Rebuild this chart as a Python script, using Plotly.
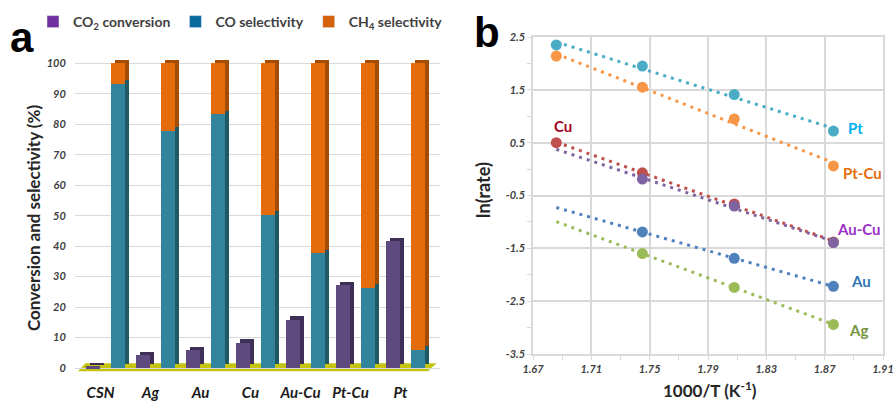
import numpy as np
import plotly.graph_objects as go

# ---------------- data: panel a ----------------
catalysts = ["CSN", "Ag", "Au", "Cu", "Au-Cu", "Pt-Cu", "Pt"]
co2_conversion = [0.6, 4.2, 5.8, 8.2, 15.8, 27.2, 41.6]
co_selectivity = [93.2, 77.8, 83.3, 50.2, 37.6, 26.4, 6.0]
ch4_selectivity = [6.8, 22.2, 16.7, 49.8, 62.4, 73.6, 94.0]
left_yticks = [0, 10, 20, 30, 40, 50, 60, 70, 80, 90, 100]

# ---------------- data: panel b ----------------
inv_T = [1.686, 1.745, 1.808, 1.876]
ln_pt = [2.35, 1.95, 1.41, 0.72]
ln_ptcu = [2.14, 1.55, 0.95, 0.06]
ln_cu = [0.50, -0.07, -0.66, -1.38]
ln_aucu = [None, -0.19, -0.70, -1.39]
ln_au = [None, -1.19, -1.69, -2.22]
ln_ag = [None, -1.60, -2.24, -2.94]
right_xticks = [1.67, 1.71, 1.75, 1.79, 1.83, 1.87, 1.91]
right_yticks = [-3.5, -2.5, -1.5, -0.5, 0.5, 1.5, 2.5]

W, H = 894, 401
def px(x):
    return x / W
def py(y):
    return 1 - y / H

fig = go.Figure()

# ---------- panel a: pseudo-3D bars ----------
n = len(catalysts)
idx = np.arange(n)
x_conv = idx - 0.25
x_sel = idx + 0.25
bw = 0.28
dx = 0.08   # depth offset (x units)
dy = 1.2    # depth offset (y units)

front = dict(conv="#5f4a7f", co="#31849b", ch4="#e46c0a")
side = dict(conv="#3d2f55", co="#205866", ch4="#a54c05")

def depth_bar(x, y, base, color):
    fig.add_trace(go.Bar(x=x, y=y, base=[b + dy for b in base], width=bw,
                         offset=-bw / 2 + dx, marker=dict(color=color, line=dict(width=0)),
                         showlegend=False, hoverinfo="skip", xaxis="x", yaxis="y"))

def front_bar(x, y, base, color, name):
    fig.add_trace(go.Bar(x=x, y=y, base=base, width=bw, offset=-bw / 2,
                         marker=dict(color=color, line=dict(width=0)),
                         name=name, showlegend=False, xaxis="x", yaxis="y"))

zeros = [0] * n
depth_bar(x_conv, co2_conversion, zeros, side["conv"])
depth_bar(x_sel, co_selectivity, zeros, side["co"])
depth_bar(x_sel, ch4_selectivity, co_selectivity, side["ch4"])
front_bar(x_conv, co2_conversion, zeros, front["conv"], "CO2 conversion")
front_bar(x_sel, co_selectivity, zeros, front["co"], "CO selectivity")
front_bar(x_sel, ch4_selectivity, co_selectivity, front["ch4"], "CH4 selectivity")

legend_items = [("CO<sub>2</sub> conversion", "#7030a0"),
                ("CO selectivity", "#0a6a9e"),
                ("CH<sub>4</sub> selectivity", "#d4600c")]
for name, col in legend_items:
    fig.add_trace(go.Bar(x=[None], y=[None], name=name, marker=dict(color=col),
                         showlegend=True, xaxis="x", yaxis="y"))

# ---------- panel b: Arrhenius plot ----------
series = [
    ("Pt", ln_pt, "#4bacc6"),
    ("Pt-Cu", ln_ptcu, "#f79646"),
    ("Cu", ln_cu, "#c0504d"),
    ("Au-Cu", ln_aucu, "#8064a2"),
    ("Au", ln_au, "#4f81bd"),
    ("Ag", ln_ag, "#9bbb59"),
]
x_line = np.array([min(inv_T), max(inv_T)])
for name, vals, col in series:
    xs = [x for x, v in zip(inv_T, vals) if v is not None]
    ys = [v for v in vals if v is not None]
    k, b = np.polyfit(xs, ys, 1)
    fig.add_trace(go.Scatter(x=x_line, y=k * x_line + b, mode="lines",
                             line=dict(color=col, width=3, dash="3px,5px"),
                             showlegend=False, hoverinfo="skip", xaxis="x2", yaxis="y2"))
for name, vals, col in series:
    fig.add_trace(go.Scatter(x=inv_T, y=vals, mode="markers", name=name,
                             marker=dict(color=col, size=11),
                             showlegend=False, xaxis="x2", yaxis="y2"))

FONT = "Lato, Open Sans, sans-serif"
tickfont = dict(family=FONT, size=11, color="#404040", weight="bold", style="italic")
grid = "#d9d9d9"

shapes = [dict(type="path", xref="x", yref="y",
               path="M -0.55,-1.1 L 6.45,-1.1 L 6.62,1.6 L -0.40,1.6 Z",
               fillcolor="#c3c310", line=dict(width=0), layer="below")]

def ann(text, x, y, size, color, angle=0, family=FONT):
    return dict(text=text, x=px(x), y=py(y), xref="paper", yref="paper", showarrow=False,
                xanchor="center", yanchor="middle", textangle=angle,
                font=dict(family=family, size=size, color=color))

annotations = [
    ann("<b>a</b>", 22, 37, 42, "black", family="Liberation Sans, Arial"),
    ann("<b>b</b>", 487, 33, 42, "black", family="Liberation Sans, Arial"),
    ann("<b>Conversion and selectivity (%)</b>", 33, 218, 17, "#262626", angle=-90),
    ann("<b>ln(rate)</b>", 483, 190, 18, "#262626", angle=-90),
    ann("<b>1000/T (K<sup>-1</sup>)</b>", 710, 389, 17, "#262626"),
]
series_labels = [("Pt", 855, 128, "#00b0f0"), ("Pt-Cu", 862, 173, "#e46c0a"),
                 ("Cu", 563, 126, "#a50021"), ("Au-Cu", 859, 229, "#9b30c8"),
                 ("Au", 861, 281, "#2e75b6"), ("Ag", 858, 330, "#77933c")]
for t, x, y, c in series_labels:
    annotations.append(ann("<b>" + t + "</b>", x, y, 15, c))

fig.update_layout(
    width=W, height=H,
    margin=dict(l=0, r=0, t=0, b=0, autoexpand=False),
    paper_bgcolor="white", plot_bgcolor="white",
    barmode="overlay", bargap=0,
    font=dict(family=FONT),
    showlegend=True,
    legend=dict(orientation="h", x=px(33), y=py(6), xanchor="left", yanchor="top",
                font=dict(size=14, color="#404040", family=FONT, weight="bold"),
                itemwidth=30, traceorder="normal",
                bgcolor="rgba(0,0,0,0)"),
    xaxis=dict(domain=[px(75), px(440)], range=[-0.61, 6.69], automargin=False,
               tickvals=list(idx - 0.1), ticktext=catalysts,
               tickfont=dict(family=FONT, size=15, color="#1a1a1a",
                             weight="bold", style="italic"),
               ticks="outside", ticklen=7, tickcolor="rgba(0,0,0,0)",
               showgrid=False, zeroline=False, showline=False, fixedrange=True),
    yaxis=dict(domain=[py(372), py(50)], range=[-1.31, 104.4], automargin=False,
               tickvals=left_yticks, tickfont=tickfont,
               showgrid=True, gridcolor=grid, gridwidth=1.3, zeroline=False,
               showline=False, ticks="outside", ticklen=6, tickcolor="rgba(0,0,0,0)"),
    xaxis2=dict(domain=[px(533), px(883)], range=[1.67, 1.91], anchor="y2", automargin=False,
                tickvals=right_xticks, ticktext=[f"{v:.2f}" for v in right_xticks],
                tickfont=tickfont, showgrid=True, gridcolor=grid, gridwidth=1.5,
                zeroline=False, showline=True, linecolor=grid, linewidth=1.5, mirror=True,
                ticks="outside", ticklen=4, tickcolor=grid, tickwidth=1.3,
                minor=dict(dtick=0.02, tick0=1.67, ticklen=4, tickcolor=grid, showgrid=False)),
    yaxis2=dict(domain=[py(354), py(37)], range=[-3.5, 2.5], anchor="x2", automargin=False,
                tickvals=right_yticks, ticktext=[f"{v:.1f}" for v in right_yticks],
                tickfont=tickfont, showgrid=True, gridcolor=grid, gridwidth=1.5,
                zeroline=False, showline=True, linecolor=grid, linewidth=1.5, mirror=True,
                ticks="outside", ticklen=4, tickcolor=grid, tickwidth=1.3,
                minor=dict(dtick=0.5, tick0=-3.5, ticklen=4, tickcolor=grid, showgrid=False)),
    shapes=shapes,
    annotations=annotations,
)

fig.write_html("out.html", config={"displayModeBar": False},
               post_script="document.body.style.margin='0';")
